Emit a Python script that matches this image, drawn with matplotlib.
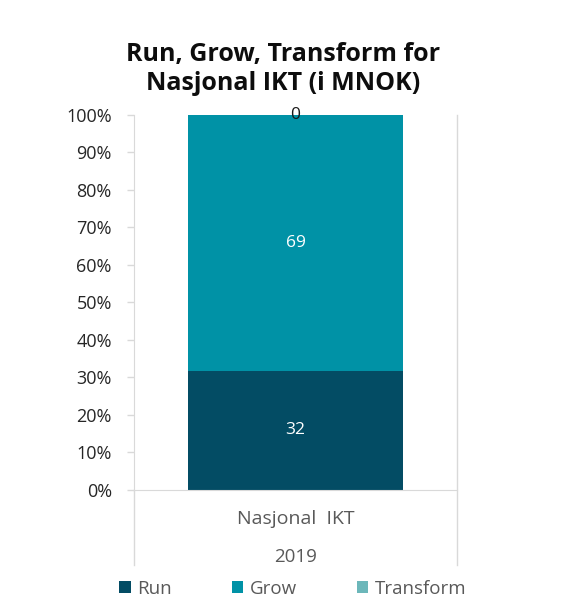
import matplotlib.pyplot as plt
from matplotlib.lines import Line2D
from matplotlib.ticker import PercentFormatter

# data
series = ['Run', 'Grow', 'Transform']
values = [32, 69, 0]
colors = ['#034c64', '#0092a6', '#6cb7ba']
label_colors = ['white', 'white', '#1a1a1a']
category = 'Nasjonal  IKT'
year = '2019'
y_ticks = [0, 10, 20, 30, 40, 50, 60, 70, 80, 90, 100]

plt.rcParams['font.family'] = ['Open Sans', 'DejaVu Sans']

fig = plt.figure(figsize=(5.63, 6.01), dpi=100)
ax = fig.add_axes([0.238, 0.185, 0.574, 0.624])

total = sum(values)
bottom = 0
for name, v, c, lc in zip(series, values, colors, label_colors):
    pct = v / total * 100
    ax.bar(0, pct, width=0.666, bottom=bottom, color=c, label=name)
    ax.text(0, bottom + pct / 2, str(v), ha='center', va='center',
            color=lc, fontsize=12.5)
    bottom += pct

ax.set_xlim(-0.5, 0.5)
ax.set_ylim(0, 100)
ax.set_yticks(y_ticks)
ax.yaxis.set_major_formatter(PercentFormatter(decimals=0))
ax.tick_params(axis='y', labelsize=13, colors='#d9d9d9', labelcolor='#262626',
               length=5, width=1, pad=11)
ax.set_xticks([])

for s in ['top', 'right']:
    ax.spines[s].set_visible(False)
ax.spines['left'].set_color('#d9d9d9')
ax.spines['bottom'].set_color('#d9d9d9')

# multi-level category axis dividers
ax.add_line(Line2D([0, 0], [0, -0.2], transform=ax.transAxes, color='#d9d9d9',
                   lw=1, clip_on=False))
ax.add_line(Line2D([1, 1], [1, -0.2], transform=ax.transAxes, color='#d9d9d9',
                   lw=1, clip_on=False))

ax.text(0.5, -0.077, category, transform=ax.transAxes, ha='center',
        va='center', fontsize=14, color='#595959')
ax.text(0.5, -0.178, year, transform=ax.transAxes, ha='center',
        va='center', fontsize=13.5, color='#595959')

fig.text(0.503, 0.885, 'Run, Grow, Transform for\nNasjonal IKT (i MNOK)',
         ha='center', va='center', fontsize=18, fontweight='bold',
         color='#0d0d0d', linespacing=1.2)

fig.legend(loc='center', bbox_to_anchor=(0.52, 0.02), ncol=3, frameon=False,
           fontsize=13.5, handlelength=0.6, handleheight=0.6, handletextpad=0.35,
           columnspacing=3.2, labelcolor='#595959')

fig.savefig('out.png', dpi=100)
